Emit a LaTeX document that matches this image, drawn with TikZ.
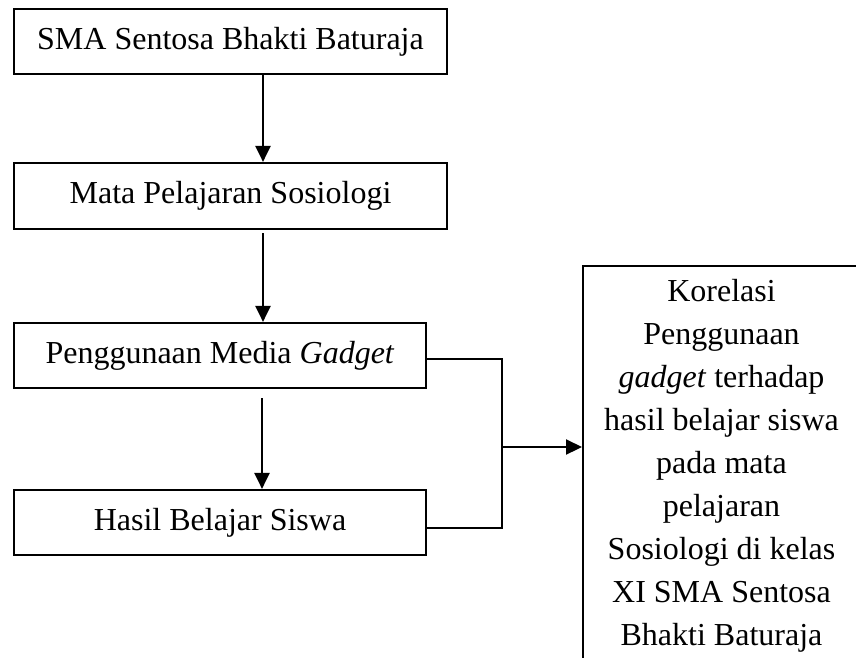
\documentclass[tikz,border=0pt]{standalone}
\usepackage{fontspec}
\setmainfont{Liberation Serif}
\usetikzlibrary{arrows.meta}
\begin{document}
\begin{tikzpicture}[x=1pt,y=-1pt,
  every node/.style={font=\fontsize{32}{43}\selectfont},
  boxnode/.style={draw, line width=2.2pt, inner sep=0pt, anchor=center},
  conn/.style={line width=2.2pt},
  arr/.style={line width=2.2pt, -{Triangle[length=16pt,width=15pt]}}]
\useasboundingbox (0,0) rectangle (856,657);
\clip (0,0) rectangle (856,657);
\node[boxnode, minimum width=433, minimum height=65] (b1) at (230.5,41.5) {SMA Sentosa Bhakti Baturaja};
\node[boxnode, minimum width=433, minimum height=66] (b2) at (230.5,196) {Mata Pelajaran Sosiologi};
\node[boxnode, minimum width=412, minimum height=65] (b3) at (220,355.5) {Penggunaan Media \textit{Gadget}};
\node[boxnode, minimum width=412, minimum height=65] (b4) at (220,522.5) {Hasil Belajar Siswa};
\node[draw, line width=2.2pt, inner sep=0pt, anchor=north west, minimum width=279, minimum height=430] (kor) at (582,265) {};
\node[anchor=north, align=center, inner sep=0pt] (kortext) at (721.5,279) {Korelasi\\Penggunaan\\\textit{gadget} terhadap\\hasil belajar siswa\\pada mata\\pelajaran\\Sosiologi di kelas\\XI SMA Sentosa\\Bhakti Baturaja};
\coordinate (s2) at (263,233);
\coordinate (s3) at (262,398);
\coordinate (j) at (502,447);
\draw[arr] (b1.south -| s2) -- (b2.north -| s2);
\draw[arr] (s2) -- (b3.north -| s2);
\draw[arr] (s3) -- (b4.north -| s3);
\draw[conn] (b3.east |- 0,359) -| (j) |- (b4.east |- 0,528);
\draw[arr] (j) -- (j -| kor.west);
\end{tikzpicture}
\end{document}
